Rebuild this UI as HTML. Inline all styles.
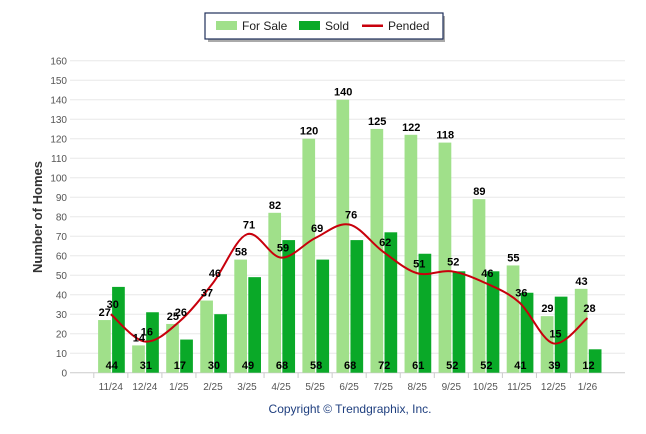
<!DOCTYPE html>
<html><head><meta charset="utf-8"><style>
body{margin:0;background:#fff;}
svg{display:block;font-family:"Liberation Sans",sans-serif;}
</style></head><body>
<svg id="chart" width="646" height="434" viewBox="0 0 646 434">
<g>
<rect x="208" y="16" width="237" height="26" fill="#555" opacity="0.5"/>
<rect x="205" y="13" width="238" height="26" fill="#fff" stroke="#1f2f5a" stroke-width="1.2"/>
<g><rect x="216" y="21" width="21" height="9" fill="#a0e08a"/><text x="242" y="30" font-size="12" fill="#222">For Sale</text></g>
<g><rect x="299" y="21" width="21" height="9" fill="#0aa928"/><text x="325" y="30" font-size="12" fill="#222">Sold</text></g>
<g><rect x="362" y="24.5" width="21" height="2.5" fill="#c8000c"/><text x="388" y="30" font-size="12" fill="#222">Pended</text></g>
</g>
<g id="grid"></g>
<g id="bars"></g>
<g id="line"></g>
<g id="labels"></g>
<text transform="translate(42,217) rotate(-90)" text-anchor="middle" font-size="13" font-weight="bold" fill="#333">Number of Homes</text>
<text x="350" y="413" text-anchor="middle" font-size="12" fill="#1f3f7f">Copyright © Trendgraphix, Inc.</text>
</svg>
<script>
const categories=["11/24","12/24","1/25","2/25","3/25","4/25","5/25","6/25","7/25","8/25","9/25","10/25","11/25","12/25","1/26"];
const forSale=[27,14,25,37,58,82,120,140,125,122,118,89,55,29,43];
const sold=[44,31,17,30,49,68,58,68,72,61,52,52,41,39,12];
const pended=[30,16,26,46,71,59,69,76,62,51,52,46,36,15,28];
const yTicks=[0,10,20,30,40,50,60,70,80,90,100,110,120,130,140,150,160];
const NS="http://www.w3.org/2000/svg";
function y(v){return 372.7-v*312/160;}
function x(i){return 110.8+i*34.05;}
function mk(tag,attrs,parent,txt){const e=document.createElementNS(NS,tag);for(const k in attrs)e.setAttribute(k,attrs[k]);if(txt!==undefined)e.textContent=txt;parent.appendChild(e);return e;}
const grid=document.getElementById('grid'),bars=document.getElementById('bars'),line=document.getElementById('line'),labels=document.getElementById('labels');
yTicks.forEach(t=>{
 const l=mk('line',{x1:70,x2:625,y1:y(t),y2:y(t),stroke:t===0?'#ccc':'#e8e8e8','stroke-width':1},grid);
 
 
 const tx=mk('text',{x:67,y:y(t)+4,'text-anchor':'end','font-size':10,fill:'#555'},grid,t);
 
 
});
categories.forEach((c,i)=>{
 const tk=mk('line',{x1:x(i)-17,x2:x(i)-17,y1:373,y2:378,stroke:'#ccc'},grid);
 
 
 const tx=mk('text',{x:x(i),y:390,'text-anchor':'middle','font-size':10,fill:'#555'},grid,c);
 
 
 const b1=mk('rect',{x:x(i)-12.7,y:y(forSale[i]),width:12.7,height:y(0)-y(forSale[i]),fill:'#a0e08a'},bars);
 
 
 const b2=mk('rect',{x:x(i)+1.3,y:y(sold[i]),width:12.7,height:y(0)-y(sold[i]),fill:'#0aa928'},bars);
 
 
 const l1=mk('text',{x:x(i)-6,y:y(forSale[i])-4,'text-anchor':'middle','font-size':11,'font-weight':'bold',fill:'#000'},labels,forSale[i]);
 
 
 const l2=mk('text',{x:x(i)+1,y:369,'text-anchor':'middle','font-size':11,'font-weight':'bold',fill:'#000'},labels,sold[i]);
 
 
 const l3=mk('text',{x:x(i)+2,y:y(pended[i])-6,'text-anchor':'middle','font-size':11,'font-weight':'bold',fill:'#000'},labels,pended[i]);
 
 
});
const pts=pended.map((v,i)=>[x(i),y(v)]);
let d="M"+pts[0][0]+","+pts[0][1];
for(let i=0;i<pts.length-1;i++){
 const p0=pts[Math.max(0,i-1)],p1=pts[i],p2=pts[i+1],p3=pts[Math.min(pts.length-1,i+2)];
 const c1=[p1[0]+(p2[0]-p0[0])/6,p1[1]+(p2[1]-p0[1])/6];
 const c2=[p2[0]-(p3[0]-p1[0])/6,p2[1]-(p3[1]-p1[1])/6];
 d+=` C${c1[0]},${c1[1]} ${c2[0]},${c2[1]} ${p2[0]},${p2[1]}`;
}
const path=mk('path',{d:d,fill:'none',stroke:'#c8000c','stroke-width':2},line);


</script>
</body></html>
